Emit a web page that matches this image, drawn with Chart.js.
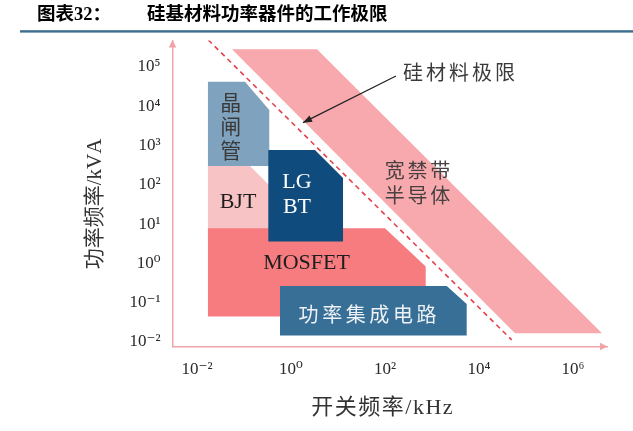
<!DOCTYPE html>
<html><head><meta charset="utf-8">
<script src="https://cdn.jsdelivr.net/npm/chart.js@4.4.1/dist/chart.umd.min.js"></script>
<style>html,body{margin:0;padding:0;background:#fff;}#wrap{width:633px;height:431px;}</style>
</head><body><div id="wrap"><canvas id="c" width="633" height="431"></canvas></div>
<script>
// ---- tick values / labels ----
const xTickValues = [1e-2, 1e0, 1e2, 1e4, 1e6];
const xTickLabels = ['10⁻²', '10⁰', '10²', '10⁴', '10⁶'];
const yTickValues = [1e-2, 1e-1, 1e0, 1e1, 1e2, 1e3, 1e4, 1e5];
const yTickLabels = ['10⁻²', '10⁻¹', '10⁰', '10¹', '10²', '10³', '10⁴', '10⁵'];

// ---- regions: switching frequency (kHz) vs power (kVA) corners ----
const wbgX = [0.0556, 3.57, 4.14e6, 58300];
const wbgY = [281800, 281800, 0.0168, 0.0168];
const limitX = [0.0174, 49600];
const limitY = [486000, 0.0113];
const bjtX = [0.0171, 0.0171, 0.134, 0.357, 0.357];
const bjtY = [3.96, 303, 303, 93.8, 3.96];
const mosX = [0.0171, 0.0171, 100, 735, 735];
const mosY = [0.0443, 7.87, 7.87, 0.83, 0.0443];
const thyX = [0.0171, 0.0171, 0.105, 0.345, 0.345];
const thyY = [303, 42300, 42300, 8050, 303];
const igbtX = [0.329, 0.329, 3.24, 12.8, 12.8];
const igbtY = [3.59, 773, 773, 150, 3.59];
const icX = [0.583, 0.583, 2056, 5470, 5470];
const icY = [0.0146, 0.267, 0.267, 0.0931, 0.0146];
const arrowX = [171, 1.80];
const arrowY = [59000, 3830];

// ---- labels placed in data space ----
const labelTexts = ['晶\n闸\n管', 'BJT', 'LG\nBT', 'MOSFET', '功率集成电路', '宽禁带\n半导体', '硅材料极限'];
const labelX = [0.0521, 0.0745, 1.34, 2.14, 42.5, 491, 3750];
const labelY = [3155, 36.7, 54.7, 1.0, 0.049, 112, 72400];

const titleNum = '图表32：';
const titleText = '硅基材料功率器件的工作极限';
const xTitle = '开关频率/kHz';
const yTitle = '功率频率/kVA';

const pts = (xs, ys) => xs.map((x, i) => ({x: x, y: ys[i]}));
const CLEAR = 'rgba(0,0,0,0)';
const shape = (data, color, order) => ({data, backgroundColor: color, borderColor: CLEAR, borderWidth: 0, fill: 'shape', order, pointRadius: 0});

const labelStyles = [
  {font: '21px "Noto Sans CJK SC"', color: '#3a3a3a', gap: 24, sp: 0},
  {font: '22px "Liberation Serif"', color: '#1e1e1e', gap: 0, sp: 0},
  {font: '22px "Liberation Serif"', color: '#ffffff', gap: 25, sp: 0},
  {font: '22px "Liberation Serif"', color: '#1e1e1e', gap: 0, sp: 0},
  {font: '20px "Noto Sans CJK SC"', color: '#eef2f6', gap: 0, sp: 3.6},
  {font: '20px "Noto Sans CJK SC"', color: '#474040', gap: 25, sp: 2.8},
  {font: '20px "Noto Sans CJK SC"', color: '#3a3a3a', gap: 0, sp: 3}
];

function spaced(ctx, text, cx, cy, sp) {
  const chars = Array.from(text);
  const ws = chars.map(c => ctx.measureText(c).width);
  const total = ws.reduce((a, b) => a + b, 0) + sp * (chars.length - 1);
  let x = cx - total / 2;
  ctx.textAlign = 'left';
  chars.forEach((c, i) => { ctx.fillText(c, x, cy); x += ws[i] + sp; });
}

const annot = {
  id: 'annot',
  afterDatasetsDraw(chart) {
    const ctx = chart.ctx;
    // annotation arrowhead
    const m = chart.getDatasetMeta(7).data;
    const p0 = m[0], p1 = m[1];
    const ang = Math.atan2(p1.y - p0.y, p1.x - p0.x);
    ctx.save();
    ctx.fillStyle = '#222';
    ctx.translate(p1.x, p1.y); ctx.rotate(ang);
    ctx.beginPath(); ctx.moveTo(0, 0); ctx.lineTo(-9, -3.5); ctx.lineTo(-9, 3.5); ctx.closePath(); ctx.fill();
    ctx.restore();
  },
  afterDraw(chart) {
    const {ctx, chartArea: a, scales: {x, y}} = chart;
    ctx.save();
    // axis arrowheads
    ctx.fillStyle = '#F2A3A8';
    ctx.beginPath(); ctx.moveTo(a.left, a.top - 0.5); ctx.lineTo(a.left - 3.8, a.top + 7); ctx.lineTo(a.left + 3.8, a.top + 7); ctx.closePath(); ctx.fill();
    ctx.beginPath(); ctx.moveTo(a.right + 0.5, a.bottom); ctx.lineTo(a.right - 7, a.bottom - 3.8); ctx.lineTo(a.right - 7, a.bottom + 3.8); ctx.closePath(); ctx.fill();
    // title
    ctx.fillStyle = '#000';
    ctx.textBaseline = 'middle';
    ctx.textAlign = 'left';
    ctx.font = 'bold 18.5px "Liberation Serif", "Noto Sans CJK SC"';
    ctx.fillText(titleNum, 37, 15.5);
    ctx.fillText(titleText, 147, 15.5);
    ctx.fillStyle = '#3C6E8F';
    ctx.fillRect(20, 30.2, 613, 2.4);
    // region labels
    labelTexts.forEach((t, i) => {
      const st = labelStyles[i];
      ctx.font = st.font; ctx.fillStyle = st.color;
      const px = x.getPixelForValue(labelX[i]);
      const py = y.getPixelForValue(labelY[i]);
      const lines = t.split('\n');
      lines.forEach((ln, k) => {
        const ly = py + (k - (lines.length - 1) / 2) * st.gap;
        spaced(ctx, ln, px, ly, st.sp);
      });
    });
    // axis titles
    ctx.fillStyle = '#333';
    ctx.font = '22px "Liberation Serif", "Noto Sans CJK SC"';
    spaced(ctx, xTitle, 382, 408, 1.5);
    ctx.font = '21px "Liberation Serif", "Noto Sans CJK SC"';
    ctx.translate(95, 204); ctx.rotate(-Math.PI / 2);
    spaced(ctx, yTitle, 0, 0, 0);
    ctx.restore();
  }
};

const tickFont = {family: '"Liberation Serif", "DejaVu Serif", serif', size: 17};
new Chart(document.getElementById('c'), {
  type: 'line',
  data: {
    datasets: [
      shape(pts(wbgX, wbgY), '#F8A9AD', 9),
      {data: pts(limitX, limitY), borderColor: '#E3414C', borderWidth: 1.6, borderDash: [5, 4], fill: false, order: 8, pointRadius: 0},
      shape(pts(bjtX, bjtY), '#F8C3C5', 7),
      shape(pts(mosX, mosY), '#F67C80', 6),
      shape(pts(thyX, thyY), '#7FA2BE', 5),
      shape(pts(igbtX, igbtY), '#0F4B7C', 4),
      shape(pts(icX, icY), '#376F96', 3),
      {data: pts(arrowX, arrowY), borderColor: '#222', borderWidth: 1.2, fill: false, order: 1, pointRadius: 0}
    ]
  },
  options: {
    responsive: false,
    animation: false,
    layout: {padding: {left: 0, right: 26, top: 40.5, bottom: 0}},
    plugins: {legend: {display: false}, tooltip: {enabled: false}, title: {display: false}},
    elements: {line: {tension: 0}, point: {radius: 0}},
    scales: {
      x: {
        type: 'logarithmic', bounds: 'data', min: Math.pow(10, -2.521), max: Math.pow(10, 6.723),
        afterBuildTicks: s => { s.ticks = xTickValues.map(v => ({value: v})); },
        afterFit: s => { s.height = 84.5; },
        grid: {display: false, drawTicks: false},
        border: {display: true, color: '#F2A3A8', width: 1.5},
        ticks: {padding: 13, color: '#2a2a2a', font: tickFont, autoSkip: false, maxRotation: 0,
          callback: (v, i) => xTickLabels[i]}
      },
      y: {
        type: 'logarithmic', bounds: 'data', min: Math.pow(10, -2.115), max: Math.pow(10, 5.674),
        afterBuildTicks: s => { s.ticks = yTickValues.map(v => ({value: v})); },
        afterFit: s => { s.width = 172.5; },
        grid: {display: false, drawTicks: false},
        border: {display: true, color: '#F2A3A8', width: 1.5},
        ticks: {padding: 12, color: '#2a2a2a', font: tickFont, autoSkip: false,
          callback: (v, i) => yTickLabels[i]}
      }
    }
  },
  plugins: [annot]
});
</script>
</body></html>
